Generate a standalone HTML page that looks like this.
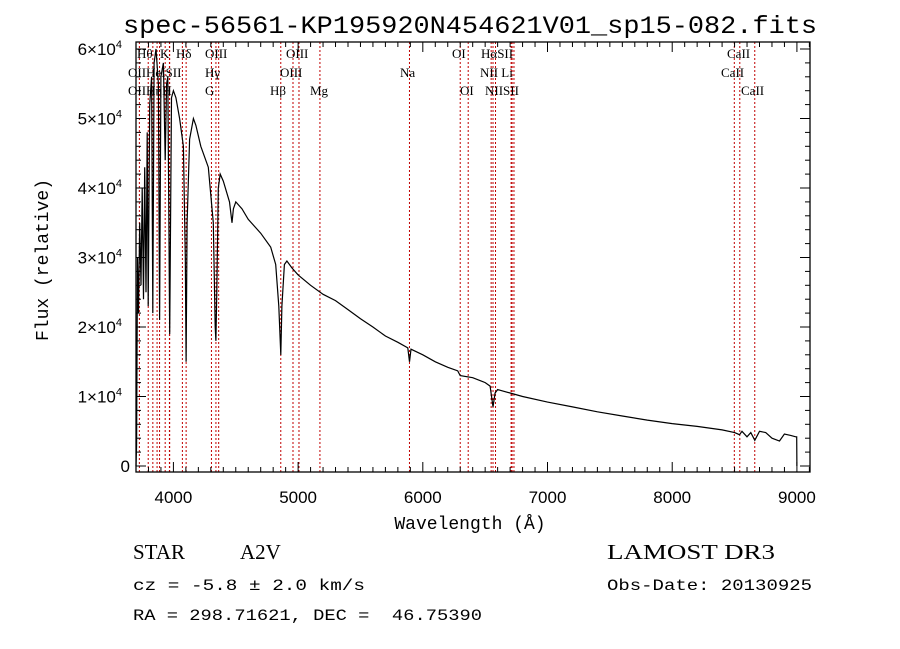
<!DOCTYPE html>
<html><head><meta charset="utf-8"><style>
body{margin:0;background:#fff;}
svg{display:block;}
text{font-family:"Liberation Serif",serif;fill:#000;}
.sans{font-family:"Liberation Sans",sans-serif;}
.mono{font-family:"Liberation Mono",monospace;}
</style></head><body>
<svg id="chart" width="900" height="649" viewBox="0 0 900 649" xmlns="http://www.w3.org/2000/svg">
<rect width="900" height="649" fill="#fff"/>
<text x="123" y="33" font-size="25" textLength="694" lengthAdjust="spacingAndGlyphs" class="mono">spec-56561-KP195920N454621V01_sp15-082.fits</text>
<g id="lines"></g>
<g id="spec"></g>
<g id="axes"></g>
<g id="labels"></g>
<text x="470" y="529" font-size="18" text-anchor="middle" class="mono">Wavelength (Å)</text>
<text x="0" y="0" font-size="18" text-anchor="middle" class="mono" transform="translate(48,260) rotate(-90)">Flux (relative)</text>
<text x="133" y="559" font-size="21">STAR</text>
<text x="240" y="559" font-size="21">A2V</text>
<text x="607" y="559" font-size="21" textLength="168" lengthAdjust="spacingAndGlyphs">LAMOST DR3</text>
<text x="133" y="590" font-size="16" class="mono" textLength="232" lengthAdjust="spacingAndGlyphs">cz = -5.8 ± 2.0 km/s</text>
<text x="607" y="590" font-size="16" class="mono" textLength="205" lengthAdjust="spacingAndGlyphs">Obs-Date: 20130925</text>
<text x="133" y="620" font-size="16" class="mono" textLength="349" lengthAdjust="spacingAndGlyphs" xml:space="preserve">RA = 298.71621, DEC =  46.75390</text>
</svg>
<script>
const wave=[3700,3705,3712,3720,3730,3740,3750,3760,3770,3780,3790,3798,3810,3825,3835,3845,3860,3880,3889,3900,3920,3934,3945,3955,3970,3985,4000,4020,4050,4080,4095,4102,4110,4130,4160,4180,4220,4280,4320,4335,4341,4348,4360,4375,4400,4450,4470,4481,4500,4550,4600,4700,4780,4820,4845,4861,4870,4890,4910,4950,5000,5100,5200,5300,5400,5500,5600,5700,5800,5880,5893,5905,6000,6100,6200,6280,6300,6400,6500,6540,6563,6580,6600,6700,6800,7000,7200,7400,7600,7800,8000,8200,8400,8500,8540,8560,8600,8630,8662,8700,8750,8800,8860,8900,8950,8990,8998,9000];
const flux=[0.0,0.3,3.0,2.2,3.5,2.6,4.0,2.4,4.3,2.5,4.8,2.3,5.2,5.6,2.2,5.8,6.0,5.5,2.1,5.6,5.8,4.4,5.5,5.6,1.9,5.3,5.4,5.3,5.0,4.6,3.0,1.5,3.5,4.7,5.0,4.9,4.6,4.3,3.5,2.0,1.8,2.5,4.0,4.2,4.1,3.8,3.5,3.7,3.8,3.7,3.55,3.35,3.15,2.9,2.3,1.6,2.3,2.9,2.95,2.85,2.75,2.6,2.47,2.38,2.25,2.12,2.0,1.87,1.78,1.7,1.5,1.68,1.6,1.5,1.42,1.37,1.3,1.27,1.2,1.15,0.85,1.05,1.1,1.05,1.0,0.92,0.85,0.78,0.72,0.66,0.61,0.57,0.52,0.48,0.45,0.5,0.42,0.48,0.37,0.5,0.48,0.4,0.36,0.46,0.44,0.42,0.42,0.0];
const lineWaves=[3727,3798,3835,3869,3889,3934,3968,3970,4072,4102,4305,4341,4363,4861,4959,5007,5175,5893,6300,6364,6548,6563,6583,6708,6716,6731,8498,8542,8662];
const xTicks=[4000,5000,6000,7000,8000,9000];
const yTicks=[0,1,2,3,4,5,6];
const X0=136,X1=810,Y0=42,Y1=472;
const xs=w=>136+(w-3700)*0.1247;
const ys=v=>466-v*69.5;
const NS="http://www.w3.org/2000/svg";
function mk(tag,attrs,parent){const e=document.createElementNS(NS,tag);for(const k in attrs)e.setAttribute(k,attrs[k]);parent.appendChild(e);return e;}
const gL=document.getElementById('lines');
lineWaves.forEach(w=>{const l=mk('line',{x1:xs(w),x2:xs(w),y1:Y0,y2:Y1,stroke:'#c00000','stroke-width':1,'stroke-dasharray':'2,2'},gL);

});
const gS=document.getElementById('spec');
const p=mk('polyline',{points:wave.map((w,i)=>xs(w).toFixed(1)+','+ys(flux[i]).toFixed(1)).join(' '),fill:'none',stroke:'#000','stroke-width':1.2},gS);


const gA=document.getElementById('axes');
mk('rect',{x:X0,y:Y0,width:X1-X0,height:Y1-Y0,fill:'none',stroke:'#000','stroke-width':1.3},gA);
for(let w=3700;w<=9100;w+=100){const x=xs(w);const L=(w%1000===0)?10:5;
mk('line',{x1:x,x2:x,y1:Y1,y2:Y1-L,stroke:'#000'},gA);mk('line',{x1:x,x2:x,y1:Y0,y2:Y0+L,stroke:'#000'},gA);}
for(let v=0;v<=6.1;v+=0.2){const y=ys(v);const L=(Math.abs(v-Math.round(v))<0.01)?10:5;
mk('line',{x1:X0,x2:X0+L,y1:y,y2:y,stroke:'#000'},gA);mk('line',{x1:X1,x2:X1-L,y1:y,y2:y,stroke:'#000'},gA);}
xTicks.forEach(w=>{const t=mk('text',{x:xs(w),y:503,'font-size':17,'text-anchor':'middle',class:'sans'},gA);t.textContent=w;

});
yTicks.forEach(v=>{const t=mk('text',{x:v===0?130:122,y:ys(v)+6,'font-size':17,'text-anchor':'end',class:'sans'},gA);


if(v===0){t.textContent='0';}else{t.textContent=v+'×10';const s=mk('tspan',{dy:-7,'font-size':11,class:'sans'},t);s.textContent='4';}});
const lab=[["Hθ",137,58],["K",160,58],["Hδ",176,58],["OIII",205,58],["OIII",286,58],["OI",452,58],["HαSII",481,58],["CaII",727,58],
["OIIHeISII",128,77],["Hγ",205,77],["OIII",280,77],["Na",400,77],["NII Li",480,77],["CaII",721,77],
["OIIHηH",128,95],["G",205,95],["Hβ",270,95],["Mg",310,95],["OI",460,95],["NIISII",485,95],["CaII",741,95]];
const gB=document.getElementById('labels');
lab.forEach(a=>{const t=mk('text',{x:a[1],y:a[2],'font-size':13},gB);t.textContent=a[0];

});
</script>
</body></html>
